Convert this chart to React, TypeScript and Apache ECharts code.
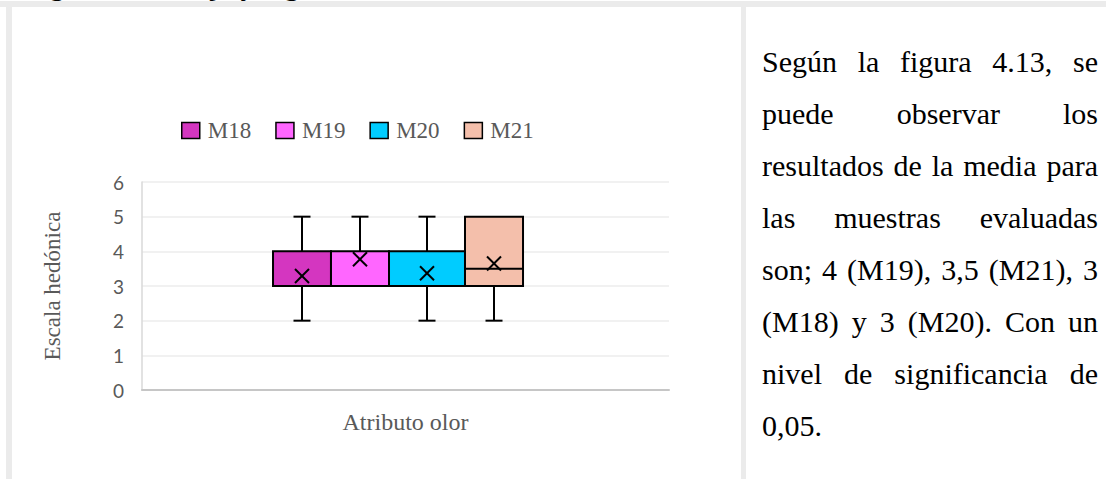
import { useEffect, useRef } from "react";
import * as echarts from "echarts";

// Box-and-whisker statistics per sample (hedonic scale, odour attribute)
const samples = ["M18", "M19", "M20", "M21"];
const categories = ["Atributo olor"];
const lowerWhisker = [2, 3, 2, 2];
const firstQuartile = [3, 3, 3, 3];
const medians = [3, 4, 3, 3.5];
const thirdQuartile = [4, 4, 4, 5];
const upperWhisker = [5, 5, 5, 5];
const means = [3.29, 3.77, 3.37, 3.65];

const boxColors = ["#D436C0", "#FF66FF", "#00CCFF", "#F4BFAB"];
// Horizontal extent of each box inside the category band (fraction of band width, from its centre)
const boxSlots = [
  [-0.2514, -0.1414],
  [-0.1414, -0.0313],
  [-0.0313, 0.1129],
  [0.1129, 0.223],
];

const headingText = "Figura 4.13. Caja y bigote del atributo olor";
const paragraphLines = [
  "Según la figura 4.13, se",
  "puede observar los",
  "resultados de la media para",
  "las muestras evaluadas",
  "son; 4 (M19), 3,5 (M21), 3",
  "(M18) y 3 (M20). Con un",
  "nivel de significancia de",
  "0,05.",
];

const GRAY = "#ebebeb";
const SERIF = "'Liberation Serif', 'Times New Roman', serif";
const SANS = "Lato, 'Open Sans', sans-serif";

function BoxChart() {
  const ref = useRef<HTMLDivElement>(null);

  useEffect(() => {
    if (!ref.current) return;
    const chart = echarts.init(ref.current, undefined, { renderer: "svg" });

    const series = samples.map((name, i) => ({
      type: "custom",
      name,
      itemStyle: { color: boxColors[i], borderColor: "#000", borderWidth: 1.5 },
      encode: { x: 0, y: [1, 2, 3, 4, 5, 6] },
      data: [
        [0, lowerWhisker[i], firstQuartile[i], medians[i], thirdQuartile[i], upperWhisker[i], means[i]],
      ],
      renderItem: (_params: any, api: any) => {
        const cat = api.value(0);
        const band = api.size([1, 0])[0];
        const cx = api.coord([cat, 0])[0];
        const left = cx + boxSlots[i][0] * band;
        const right = cx + boxSlots[i][1] * band;
        const mid = (left + right) / 2;
        const y = (v: number) => api.coord([cat, v])[1];
        const mn = api.value(1);
        const lq = api.value(2);
        const md = api.value(3);
        const uq = api.value(4);
        const mx = api.value(5);
        const mean = api.value(6);
        const stroke = { stroke: "#000", lineWidth: 2 };
        const cap = 8.5;
        const children: any[] = [];
        if (mx > uq) {
          children.push({ type: "line", shape: { x1: mid, y1: y(uq), x2: mid, y2: y(mx) }, style: stroke });
          children.push({ type: "line", shape: { x1: mid - cap, y1: y(mx), x2: mid + cap, y2: y(mx) }, style: stroke });
        }
        if (mn < lq) {
          children.push({ type: "line", shape: { x1: mid, y1: y(lq), x2: mid, y2: y(mn) }, style: stroke });
          children.push({ type: "line", shape: { x1: mid - cap, y1: y(mn), x2: mid + cap, y2: y(mn) }, style: stroke });
        }
        children.push({
          type: "rect",
          shape: { x: left, y: y(uq), width: right - left, height: y(lq) - y(uq) },
          style: { fill: boxColors[i], stroke: "#000", lineWidth: 2 },
        });
        if (md > lq && md < uq) {
          children.push({ type: "line", shape: { x1: left, y1: y(md), x2: right, y2: y(md) }, style: stroke });
        }
        const ym = y(mean);
        const h = 7;
        children.push({ type: "line", shape: { x1: mid - h, y1: ym - h, x2: mid + h, y2: ym + h }, style: stroke });
        children.push({ type: "line", shape: { x1: mid - h, y1: ym + h, x2: mid + h, y2: ym - h }, style: stroke });
        return { type: "group", children };
      },
    }));

    chart.setOption({
      animation: false,
      legend: {
        data: samples,
        left: 164,
        top: 107,
        icon: "rect",
        itemWidth: 18,
        itemHeight: 16,
        itemGap: 24,
        itemStyle: { borderColor: "#000", borderWidth: 1.5 },
        textStyle: { fontFamily: SERIF, fontSize: 23, color: "#595959", padding: [0, 0, 0, 3] },
      },
      grid: { left: 130, right: 72, top: 175, bottom: 89 },
      xAxis: {
        type: "category",
        data: categories,
        axisLine: { lineStyle: { color: "#c6c6c6", width: 2 } },
        axisTick: { show: false },
        axisLabel: { margin: 20, fontFamily: SERIF, fontSize: 24, color: "#595959" },
        splitLine: { show: false },
      },
      yAxis: {
        type: "value",
        min: 0,
        max: 6,
        interval: 1,
        name: "Escala hedónica",
        nameLocation: "middle",
        nameGap: 78,
        nameTextStyle: { fontFamily: SERIF, fontSize: 23, color: "#595959" },
        axisLine: { show: true, lineStyle: { color: "#d9d9d9", width: 1.5 } },
        axisTick: { show: false },
        axisLabel: { margin: 18, fontFamily: SANS, fontSize: 19, color: "#595959" },
        splitLine: { lineStyle: { color: "#ececec", width: 1.5 } },
      },
      series,
    });

    return () => chart.dispose();
  }, []);

  return (
    <div
      ref={ref}
      style={{ position: "absolute", left: 12, top: 7, width: 729, height: 472 }}
    />
  );
}

export default function App() {
  return (
    <div
      style={{
        position: "absolute",
        left: 0,
        top: 0,
        width: 1106,
        height: 479,
        overflow: "hidden",
        background: "#fff",
      }}
    >
      {/* Figure heading running above the table, only its lowest strokes in view */}
      <div
        style={{
          position: "absolute",
          left: 25,
          top: -28,
          fontFamily: SERIF,
          fontWeight: "bold",
          fontSize: 28,
          lineHeight: "28px",
          whiteSpace: "nowrap",
          color: "#000",
        }}
      >
        {headingText}
      </div>
      {/* Table borders */}
      <div style={{ position: "absolute", left: 0, top: 1, width: 1106, height: 6, background: GRAY }} />
      <div style={{ position: "absolute", left: 6, top: 1, width: 6, height: 478, background: GRAY }} />
      <div style={{ position: "absolute", left: 741, top: 1, width: 5, height: 478, background: GRAY }} />

      <BoxChart />

      {/* Commentary column */}
      <div style={{ position: "absolute", left: 762, top: 36, width: 336 }}>
        {paragraphLines.map((line, i) => (
          <div
            key={i}
            style={{
              fontFamily: SERIF,
              fontSize: 30,
              lineHeight: "52px",
              height: 52,
              color: "#000",
              whiteSpace: "nowrap",
              textAlign: i === paragraphLines.length - 1 ? "left" : "justify",
              textAlignLast: i === paragraphLines.length - 1 ? "left" : "justify",
            }}
          >
            {line}
          </div>
        ))}
      </div>
    </div>
  );
}
